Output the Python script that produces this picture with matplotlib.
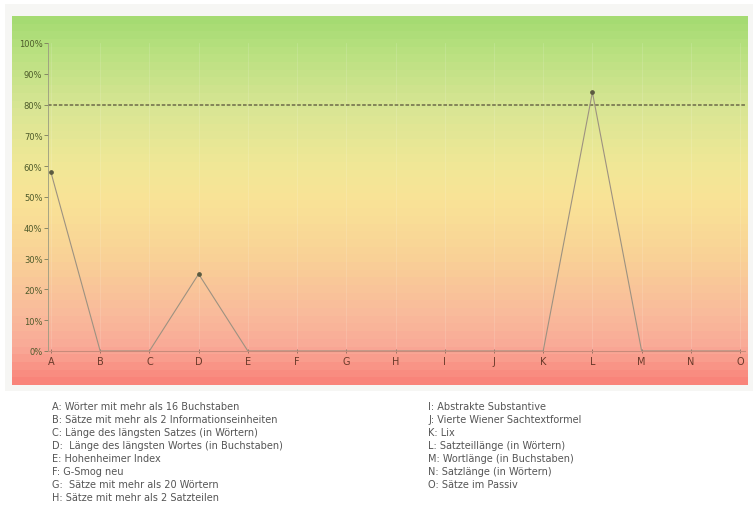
import numpy as np
import matplotlib.pyplot as plt
from matplotlib.colors import LinearSegmentedColormap

# Lesbarkeitsindizes A..O, Erfuellungsgrad in Prozent
kategorien = list("ABCDEFGHIJKLMNO")
werte = [58, 0, 0, 25, 0, 0, 0, 0, 0, 0, 0, 84, 0, 0, 0]
zielwert = 80
y_ticks = [0, 10, 20, 30, 40, 50, 60, 70, 80, 90, 100]

legende_links = [
    "A: Wörter mit mehr als 16 Buchstaben",
    "B: Sätze mit mehr als 2 Informationseinheiten",
    "C: Länge des längsten Satzes (in Wörtern)",
    "D:  Länge des längsten Wortes (in Buchstaben)",
    "E: Hohenheimer Index",
    "F: G-Smog neu",
    "G:  Sätze mit mehr als 20 Wörtern",
    "H: Sätze mit mehr als 2 Satzteilen",
]
legende_rechts = [
    "I: Abstrakte Substantive",
    "J: Vierte Wiener Sachtextformel",
    "K: Lix",
    "L: Satzteillänge (in Wörtern)",
    "M: Wortlänge (in Buchstaben)",
    "N: Satzlänge (in Wörtern)",
    "O: Sätze im Passiv",
]

W, H = 753, 506
fig = plt.figure(figsize=(W / 100, H / 100), dpi=100, facecolor="white")


def fx(px):
    return px / W


def fy(py):
    return 1 - py / H


# heller Rahmen um das Diagramm
rahmen = fig.add_axes([fx(5), fy(392), fx(748), fy(5) - fy(392)])
rahmen.set_facecolor("#f6f6f4")
rahmen.set_xticks([])
rahmen.set_yticks([])
for s in rahmen.spines.values():
    s.set_visible(False)

# Farbverlauf gruen -> gelb -> rot
stops = [
    (0.00, (0.65, 0.86, 0.45)),
    (0.08, (0.72, 0.88, 0.50)),
    (0.24, (0.85, 0.90, 0.58)),
    (0.40, (0.94, 0.91, 0.59)),
    (0.50, (0.98, 0.89, 0.59)),
    (0.66, (0.98, 0.82, 0.59)),
    (0.82, (0.98, 0.73, 0.61)),
    (0.91, (0.98, 0.66, 0.59)),
    (1.00, (0.98, 0.52, 0.48)),
]
cmap = LinearSegmentedColormap.from_list("ampel", stops)
bg = fig.add_axes([fx(12), fy(386), fx(748) - fx(12), fy(17) - fy(386)])
grad = np.linspace(0, 1, 48).reshape(-1, 1)
bg.imshow(grad, aspect="auto", cmap=cmap, extent=[0, 1, 1, 0], interpolation="nearest")
bg.set_axis_off()

# eigentliches Diagramm
ax = fig.add_axes([fx(48), fy(352), fx(745) - fx(48), fy(44) - fy(352)])
ax.patch.set_alpha(0)
x = np.arange(len(kategorien))
ax.set_xlim(-0.06, 14.1)
ax.set_ylim(0, 100)

for xi in x:
    ax.axvline(xi, color="white", lw=0.6, alpha=0.15, zorder=1)

ax.axhline(zielwert, color="#7d7c55", lw=1.3, ls=(0, (2, 1)), zorder=2)
ax.plot(x, werte, color="#9d9281", lw=0.8, zorder=3)
# Punkte nur fuer Werte ueber null
w = np.array(werte)
ax.plot(x[w > 0], w[w > 0], "o", color="#5a5a40", ms=2.4, zorder=4)

ax.set_xticks(x)
ax.set_xticklabels(kategorien, fontsize=7, color="#6a3a2a")
ax.set_yticks(y_ticks)
ax.set_yticklabels([f"{v}%" for v in y_ticks], fontsize=6, color="#4d5a2a")
ax.tick_params(axis="x", length=3, width=0.6, color="#8a6a5a", pad=2, direction="inout")
ax.tick_params(axis="y", length=3, width=0.6, color="#7a7a5a", pad=1)

for side in ["top", "right"]:
    ax.spines[side].set_visible(False)
ax.spines["left"].set_color("#9a9a80")
ax.spines["left"].set_linewidth(0.6)
ax.spines["bottom"].set_color("#c98a7a")
ax.spines["bottom"].set_linewidth(0.8)

# Legende unter dem Diagramm
zeile = 13.0
for i, t in enumerate(legende_links):
    fig.text(fx(52), fy(407 + i * zeile), t, fontsize=7, color="#555555", va="center", ha="left")
for i, t in enumerate(legende_rechts):
    fig.text(fx(428), fy(407 + i * zeile), t, fontsize=7, color="#555555", va="center", ha="left")

fig.savefig("out.png", dpi=100)
